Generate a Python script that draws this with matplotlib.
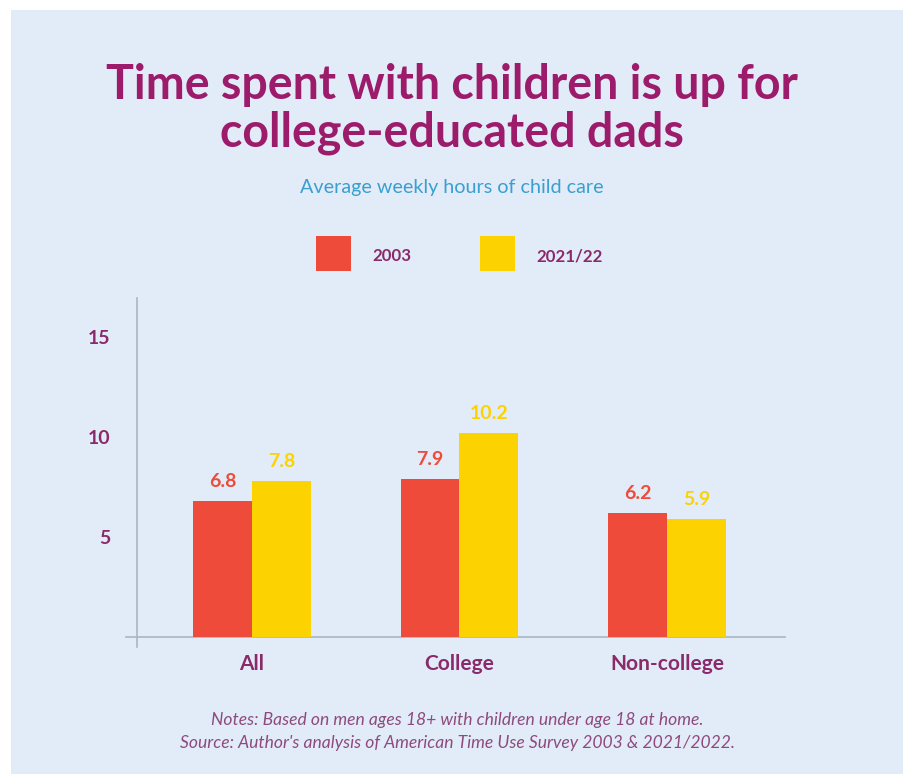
import matplotlib.pyplot as plt
from matplotlib.patches import Rectangle
import numpy as np

# data
categories = ["All", "College", "Non-college"]
years = ["2003", "2021/22"]
hours_2003 = [6.8, 7.9, 6.2]
hours_2021 = [7.8, 10.2, 5.9]
labels_2003 = ["6.8", "7.9", "6.2"]
labels_2021 = ["7.8", "10.2", "5.9"]
yticks = [5, 10, 15]

bg = "#e1ecf8"
red = "#ee4b3a"
yellow = "#fcd200"
purple = "#9c1b6b"
text_purple = "#8a2a6a"
blue = "#3a9fd0"
axis_col = "#aab5c3"

plt.rcParams['font.family'] = ['Lato', 'DejaVu Sans']

fig = plt.figure(figsize=(9.04, 7.74), dpi=100)
fig.patch.set_facecolor("white")
fig.patches.append(Rectangle((11 / 904, 0), 1 - 11 / 904, 1 - 10 / 774,
                             transform=fig.transFigure, facecolor=bg,
                             edgecolor="none", zorder=-10))

# title block
fig.text(0.5, 1 - 85 / 774, "Time spent with children is up for", ha="center", va="center",
         fontsize=33.5, fontweight="bold", color=purple)
fig.text(0.5, 1 - 133 / 774, "college-educated dads", ha="center", va="center",
         fontsize=33.5, fontweight="bold", color=purple)
fig.text(0.5, 1 - 187 / 774, "Average weekly hours of child care", ha="center", va="center",
         fontsize=14.2, color=blue)

# legend
sq = 35
for x0, col, lab in [(316, red, years[0]), (480, yellow, years[1])]:
    fig.patches.append(Rectangle((x0 / 904, 1 - 271 / 774), sq / 904, sq / 774,
                                 transform=fig.transFigure, facecolor=col,
                                 edgecolor="none", zorder=2))
    fig.text((x0 + sq + 21) / 904, 1 - 256 / 774, lab, ha="left", va="center",
             fontsize=12.2, fontweight="bold", color=text_purple)

# axes
ax = fig.add_axes([126 / 904, 1 - 637 / 774, (785 - 126) / 904, (637 - 298) / 774])
ax.set_facecolor("none")
x = np.arange(len(categories))
w = 0.284
ax.bar(x - w / 2, hours_2003, w, color=red, zorder=3)
ax.bar(x + w / 2, hours_2021, w, color=yellow, zorder=3)

for i in range(len(categories)):
    ax.text(x[i] - w / 2, hours_2003[i] + 0.55, labels_2003[i], ha="center", va="bottom",
            fontsize=14, fontweight="bold", color=red)
    ax.text(x[i] + w / 2, hours_2021[i] + 0.55, labels_2021[i], ha="center", va="bottom",
            fontsize=14, fontweight="bold", color=yellow)

ax.set_xlim(-0.607, 2.569)
ax.set_ylim(0, 16.95)
ax.set_yticks(yticks)
ax.set_yticklabels([str(t) for t in yticks], fontsize=14, fontweight="bold", color=text_purple)
ax.set_xticks(x)
ax.set_xticklabels(categories, fontsize=15, fontweight="bold", color=text_purple)
ax.tick_params(axis="both", length=0)
ax.tick_params(axis="y", pad=11)
ax.tick_params(axis="x", pad=12)

for s in ["top", "right", "left"]:
    ax.spines[s].set_visible(False)
ax.spines["bottom"].set_color(axis_col)
ax.spines["bottom"].set_linewidth(1.2)
ax.plot([-0.554, -0.554], [-0.5, 16.95], color=axis_col, lw=1.2, clip_on=False, zorder=2)

# notes
fig.text(0.506, 1 - 720 / 774, "Notes: Based on men ages 18+ with children under age 18 at home.",
         ha="center", va="center", fontsize=12.6, style="italic", color="#8e4a7e")
fig.text(0.506, 1 - 743 / 774, "Source: Author's analysis of American Time Use Survey 2003 & 2021/2022.",
         ha="center", va="center", fontsize=12.6, style="italic", color="#8e4a7e")

fig.savefig("out.png", dpi=100, facecolor=fig.get_facecolor())
